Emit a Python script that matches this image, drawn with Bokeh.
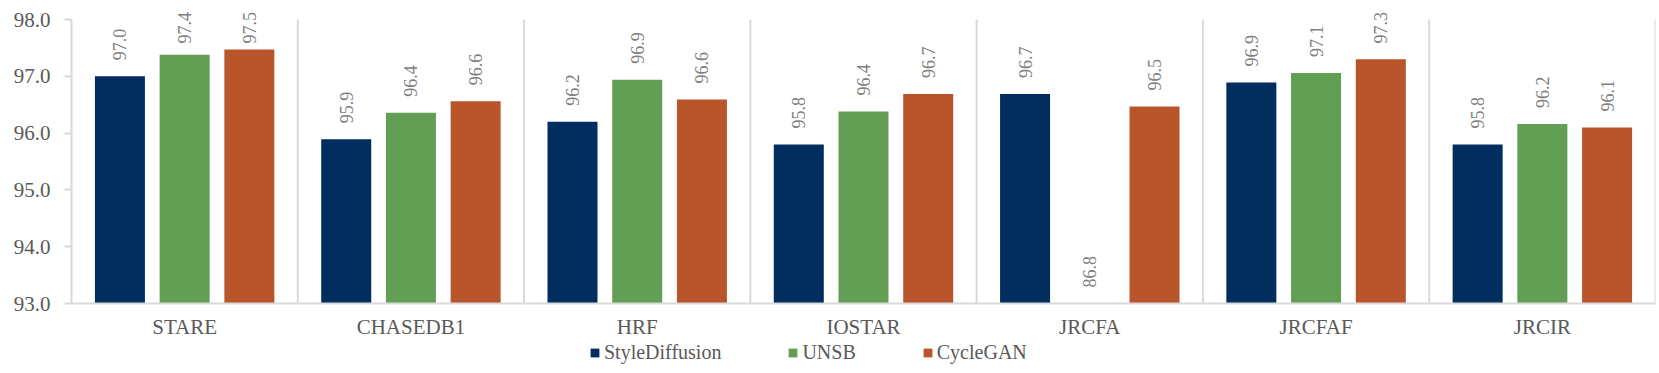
import numpy as np
from bokeh.plotting import figure
from bokeh.layouts import column
from bokeh.models import (ColumnDataSource, Range1d, FixedTicker, LabelSet,
                          Legend, LegendItem, NumeralTickFormatter)
from bokeh.embed import file_html
from bokeh.resources import INLINE

# ---- data ----
categories = ["STARE", "CHASEDB1", "HRF", "IOSTAR", "JRCFA", "JRCFAF", "JRCIR"]
series_names = ["StyleDiffusion", "UNSB", "CycleGAN"]
style_diffusion = [97.00, 95.89, 96.20, 95.80, 96.69, 96.89, 95.80]
unsb = [97.38, 96.36, 96.94, 96.38, 86.80, 97.06, 96.16]
cyclegan = [97.47, 96.56, 96.59, 96.69, 96.47, 97.30, 96.10]
colors = ["#022D5F", "#629F54", "#B8552A"]
y_ticks = [93, 94, 95, 96, 97, 98]

YMIN, YMAX = 93.0, 98.0
FRAME_W = 1584
PPU = 284 / (YMAX - YMIN)        # pixels per data unit
TOP_PAD = 19                     # room above the 98.0 line for labels
FRAME_H = 284 + TOP_PAD
Y_END = YMAX + TOP_PAD / PPU

p = figure(frame_width=FRAME_W, frame_height=FRAME_H, output_backend="svg",
           toolbar_location=None,
           x_range=Range1d(0, len(categories)), y_range=Range1d(YMIN, Y_END),
           min_border_left=71, min_border_right=4,
           min_border_top=0, min_border_bottom=38,
           outline_line_color=None, background_fill_color="white",
           border_fill_color="white")

centers = np.arange(len(categories)) + 0.5
offsets = [-0.286, 0.0, 0.286]
bar_w = 0.221

# category separators (from 93 to 98 only)
bounds_x = np.arange(1, len(categories) + 1)
p.segment(x0=bounds_x, x1=bounds_x, y0=YMIN, y1=YMAX, line_color="#D9D9D9", line_width=2)

for name, vals, off, col in zip(series_names, [style_diffusion, unsb, cyclegan], offsets, colors):
    vals = np.array(vals, dtype=float)
    base = np.maximum(vals, YMIN)
    label_y = np.minimum(base + 16.0 / PPU, YMAX - 24.0 / PPU)
    src = ColumnDataSource(dict(x=centers + off, top=vals, bottom=np.full(len(vals), YMIN),
                                ly=label_y, txt=[f"{v:.1f}" for v in vals]))
    p.vbar(x="x", top="top", bottom="bottom", width=bar_w, source=src,
           fill_color=col, line_color=None)
    labels = LabelSet(x="x", y="ly", text="txt", source=src, angle=np.pi / 2,
                      text_align="left", text_baseline="middle",
                      text_font="Liberation Sans", text_font_size="18px",
                      text_color="#808080")
    p.add_layout(labels)

# axes
p.xaxis.ticker = FixedTicker(ticks=list(centers))
p.xaxis.major_label_overrides = {float(c): n for c, n in zip(centers, categories)}
p.xaxis.major_label_text_font = "Liberation Serif"
p.xaxis.major_label_text_font_size = "21px"
p.xaxis.major_label_text_color = "#595959"
p.xaxis.major_tick_line_color = None
p.xaxis.minor_tick_line_color = None
p.xaxis.axis_line_color = "#D9D9D9"
p.xaxis.axis_line_width = 2
p.xaxis.major_label_standoff = 5

p.yaxis.ticker = FixedTicker(ticks=y_ticks)
p.yaxis.bounds = (YMIN, YMAX)
p.yaxis.formatter = NumeralTickFormatter(format="0.0")
p.yaxis.major_label_text_font = "Liberation Serif"
p.yaxis.major_label_text_font_size = "21px"
p.yaxis.major_label_text_color = "#595959"
p.yaxis.major_tick_line_color = "#D9D9D9"
p.yaxis.major_tick_line_width = 2
p.yaxis.major_tick_out = 7
p.yaxis.major_tick_in = 0
p.yaxis.minor_tick_line_color = None
p.yaxis.axis_line_color = "#D9D9D9"
p.yaxis.axis_line_width = 2
p.yaxis.major_label_standoff = 14

p.xgrid.grid_line_color = None
p.ygrid.grid_line_color = None

# ---- legend strip (separate figure so it can sit freely under the axis) ----
lg = figure(width=1659, height=30, output_backend="svg", toolbar_location=None,
            x_range=Range1d(0, 1), y_range=Range1d(0, 1),
            x_axis_location=None, y_axis_location=None,
            min_border_left=0, min_border_right=0, min_border_top=0, min_border_bottom=0,
            outline_line_color=None, border_fill_color="white", background_fill_color="white")
lg.grid.visible = False
items = []
for name, col in zip(series_names, colors):
    r = lg.vbar(x=[-5], top=[-5], bottom=[-6], width=0.1, fill_color=col, line_color=None)
    items.append(LegendItem(label=name, renderers=[r]))
legend = Legend(items=items, orientation="horizontal", location=(518, 7),
                label_text_font="Liberation Serif", label_text_font_size="20px",
                label_text_color="#595959", glyph_width=11, glyph_height=11,
                label_standoff=4, spacing=66, padding=0, margin=0,
                label_height=20,
                border_line_color=None, background_fill_alpha=0)
lg.add_layout(legend, "center")

layout = column(p, lg, spacing=0)
open("out.html", "w").write(file_html(layout, INLINE))
